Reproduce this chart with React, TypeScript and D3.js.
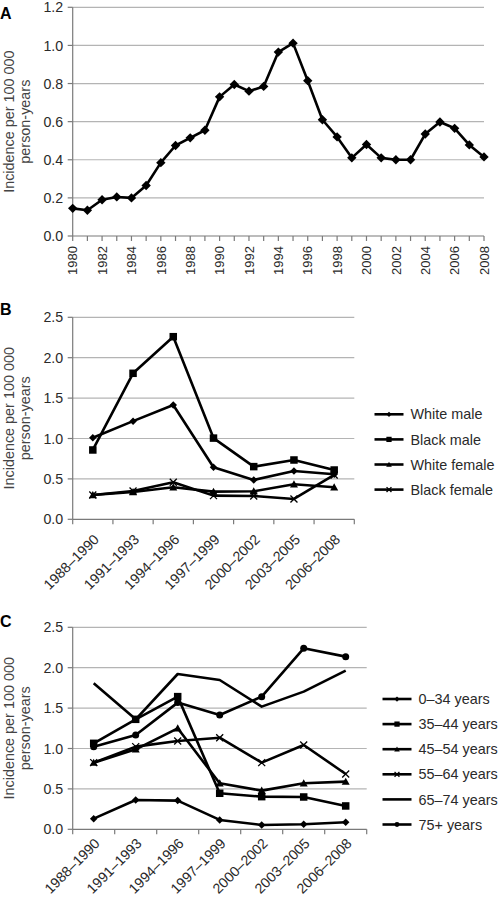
import React from "react";
import * as d3 from "d3";

const yearsA = [1980,1981,1982,1983,1984,1985,1986,1987,1988,1989,1990,1991,1992,1993,1994,1995,1996,1997,1998,1999,2000,2001,2002,2003,2004,2005,2006,2007,2008];
const incidenceA = [0.145,0.135,0.19,0.205,0.2,0.265,0.385,0.475,0.515,0.555,0.73,0.795,0.76,0.785,0.965,1.012,0.815,0.61,0.52,0.41,0.48,0.41,0.4,0.4,0.535,0.598,0.565,0.478,0.415];
const yTicksA = [0,0.2,0.4,0.6,0.8,1.0,1.2];

const periods = ["1988–1990","1991–1993","1994–1996","1997–1999","2000–2002","2003–2005","2006–2008"];
const yTicksBC = [0,0.5,1.0,1.5,2.0,2.5];

const whiteMale = [1.01,1.215,1.415,0.645,0.487,0.598,0.557];
const blackMale = [0.858,1.807,2.26,1.005,0.652,0.734,0.61];
const whiteFemale = [0.3,0.338,0.396,0.342,0.347,0.433,0.396];
const blackFemale = [0.3,0.35,0.458,0.293,0.289,0.252,0.549];

const age0_34 = [0.132,0.363,0.355,0.116,0.054,0.062,0.087];
const age35_44 = [1.064,1.361,1.642,0.446,0.404,0.4,0.289];
const age45_54 = [0.825,0.99,1.25,0.569,0.479,0.569,0.59];
const age55_64 = [0.825,1.023,1.093,1.134,0.825,1.044,0.685];
const age65_74 = [1.807,1.361,1.922,1.848,1.518,1.704,1.964];
const age75 = [1.023,1.167,1.568,1.415,1.642,2.24,2.137];

const seriesB = [
  { name: "White male", values: whiteMale, marker: "diamond", size: 6 },
  { name: "Black male", values: blackMale, marker: "square", size: 7.5 },
  { name: "White female", values: whiteFemale, marker: "triangle", size: 8 },
  { name: "Black female", values: blackFemale, marker: "x", size: 7 },
];
const seriesC = [
  { name: "0–34 years", values: age0_34, marker: "diamond", size: 6 },
  { name: "35–44 years", values: age35_44, marker: "square", size: 7.5 },
  { name: "45–54 years", values: age45_54, marker: "triangle", size: 8 },
  { name: "55–64 years", values: age55_64, marker: "x", size: 7 },
  { name: "65–74 years", values: age65_74, marker: "none", size: 0 },
  { name: "75+ years", values: age75, marker: "circle", size: 7 },
];

const FONT = "'Liberation Sans', Arial, Helvetica, sans-serif";
const GRID = "#b4b4b4";
const AXIS = "#7a7a7a";
const TEXT = "#2a2a2a";

function Marker({ type, x, y, s }: { type: string; x: number; y: number; s: number }) {
  const h = s / 2;
  if (type === "diamond") {
    const r = h * 1.25;
    return <path d={`M${x},${y - r}L${x + r},${y}L${x},${y + r}L${x - r},${y}Z`} fill="#000" />;
  }
  if (type === "square") return <rect x={x - h} y={y - h} width={s} height={s} fill="#000" />;
  if (type === "triangle")
    return <path d={`M${x},${y - h}L${x + h},${y + h * 0.8}L${x - h},${y + h * 0.8}Z`} fill="#000" />;
  if (type === "circle") return <circle cx={x} cy={y} r={h} fill="#000" />;
  if (type === "x")
    return (
      <path d={`M${x - h},${y - h}L${x + h},${y + h}M${x - h},${y + h}L${x + h},${y - h}`} stroke="#000" strokeWidth={1.3} fill="none" />
    );
  return null;
}

function YAxis({ y, ticks, left, right, fmt }: any) {
  return (
    <g>
      {ticks.map((t: number) => (
        <g key={t}>
          {t > 0 && <line x1={left} x2={right} y1={y(t)} y2={y(t)} stroke={GRID} strokeWidth={1.2} />}
          <line x1={left - 5} x2={left} y1={y(t)} y2={y(t)} stroke={AXIS} strokeWidth={1.2} />
          <text x={left - 9.5} y={y(t)} dy="0.36em" textAnchor="end" fontSize={14.2} fill={TEXT} fontFamily={FONT}>
            {fmt(t)}
          </text>
        </g>
      ))}
      <line x1={left} x2={left} y1={y(ticks[ticks.length - 1])} y2={y(0)} stroke={AXIS} strokeWidth={1.2} />
    </g>
  );
}

function YTitle({ cx, cy }: { cx: number; cy: number }) {
  return (
    <text transform={`translate(${cx},${cy}) rotate(-90)`} textAnchor="middle" fontSize={14.4} fill="#444" fontFamily={FONT}>
      <tspan x={0} dy={0}>Incidence per 100 000</tspan>
      <tspan x={0} dy={15.5}>person-years</tspan>
    </text>
  );
}

function Letter({ x, y, t }: { x: number; y: number; t: string }) {
  return (
    <text x={x} y={y} fontSize={16} fontWeight="bold" fontFamily={FONT} fill="#000">
      {t}
    </text>
  );
}

function PanelA() {
  const left = 72.7, right = 484, top = 7.3, bottom = 236;
  const x = d3.scalePoint<number>().domain(yearsA).range([left, right]);
  const y = d3.scaleLinear().domain([0, 1.2]).range([bottom, top]);
  const line = d3.line<number>().x((_, i) => x(yearsA[i])!).y((d) => y(d));
  return (
    <g>
      <Letter x={0} y={18.5} t="A" />
      <YTitle cx={14} cy={(top + bottom) / 2} />
      <YAxis y={y} ticks={yTicksA} left={left} right={right} fmt={(t: number) => t.toFixed(1)} />
      <line x1={left} x2={right} y1={bottom} y2={bottom} stroke={AXIS} strokeWidth={1.2} />
      {yearsA.map((yr) => (
        <g key={yr}>
          <line x1={x(yr)} x2={x(yr)} y1={bottom} y2={bottom + 5} stroke={AXIS} strokeWidth={1.2} />
          {yr % 2 === 0 && (
            <text
              transform={`translate(${x(yr)},${bottom + 10}) rotate(-90)`}
              dy="0.36em"
              textAnchor="end"
              fontSize={13}
              fill={TEXT}
              fontFamily={FONT}
            >
              {yr}
            </text>
          )}
        </g>
      ))}
      <path d={line(incidenceA)!} fill="none" stroke="#000" strokeWidth={2.6} strokeLinejoin="round" />
      {incidenceA.map((v, i) => (
        <Marker key={i} type="diamond" x={x(yearsA[i])!} y={y(v)} s={7.5} />
      ))}
    </g>
  );
}

function PanelBC({ series, left, right, top, bottom, letter, letterY, legendX, legendY0, labelOff }: any) {
  const x = d3.scaleBand<string>().domain(periods).range([left, right]);
  const y = d3.scaleLinear().domain([0, 2.5]).range([bottom, top]);
  const cx = (p: string) => x(p)! + x.bandwidth() / 2;
  const line = d3.line<number>().x((_, i) => cx(periods[i])).y((d) => y(d));
  const ticks = [...periods.map((p) => x(p)!), right];
  return (
    <g>
      <Letter x={0} y={letterY} t={letter} />
      <YTitle cx={14} cy={(top + bottom) / 2} />
      <YAxis y={y} ticks={yTicksBC} left={left} right={right} fmt={(t: number) => t.toFixed(1)} />
      <line x1={left} x2={right} y1={bottom} y2={bottom} stroke={AXIS} strokeWidth={1.2} />
      {ticks.map((tx, i) => (
        <line key={i} x1={tx} x2={tx} y1={bottom} y2={bottom + 5} stroke={AXIS} strokeWidth={1.2} />
      ))}
      {periods.map((p) => (
        <text
          key={p}
          transform={`translate(${cx(p) + 7},${bottom + labelOff}) rotate(-45)`}
          textAnchor="end"
          fontSize={14.2}
          fill={TEXT}
          fontFamily={FONT}
        >
          {p}
        </text>
      ))}
      {series.map((s: any) => (
        <g key={s.name}>
          <path d={line(s.values)!} fill="none" stroke="#000" strokeWidth={2.6} strokeLinejoin="round" />
          {s.values.map((v: number, i: number) => (
            <Marker key={i} type={s.marker} x={cx(periods[i])} y={y(v)} s={s.size} />
          ))}
        </g>
      ))}
      {series.map((s: any, i: number) => {
        const ly = legendY0 + i * 25.1;
        return (
          <g key={s.name}>
            <line x1={legendX} x2={legendX + 29} y1={ly} y2={ly} stroke="#000" strokeWidth={2.6} />
            <Marker type={s.marker} x={legendX + 14.5} y={ly} s={s.size * 0.7} />
            <text x={legendX + 36} y={ly} dy="0.36em" fontSize={14.4} fill={TEXT} fontFamily={FONT}>
              {s.name}
            </text>
          </g>
        );
      })}
    </g>
  );
}

export default function App() {
  return (
    <svg width={499} height={901} style={{ position: "absolute", left: 0, top: 0, background: "#fff" }}>
      <rect width={499} height={901} fill="#fff" />
      <PanelA />
      <PanelBC series={seriesB} left={72.7} right={354.3} top={317.3} bottom={519.3} letter="B" letterY={315} legendX={374.5} legendY0={414.3} labelOff={21} />
      <PanelBC series={seriesC} left={72.7} right={366.7} top={627.3} bottom={829.3} letter="C" letterY={626.5} legendX={382.5} legendY0={699} labelOff={15} />
    </svg>
  );
}
